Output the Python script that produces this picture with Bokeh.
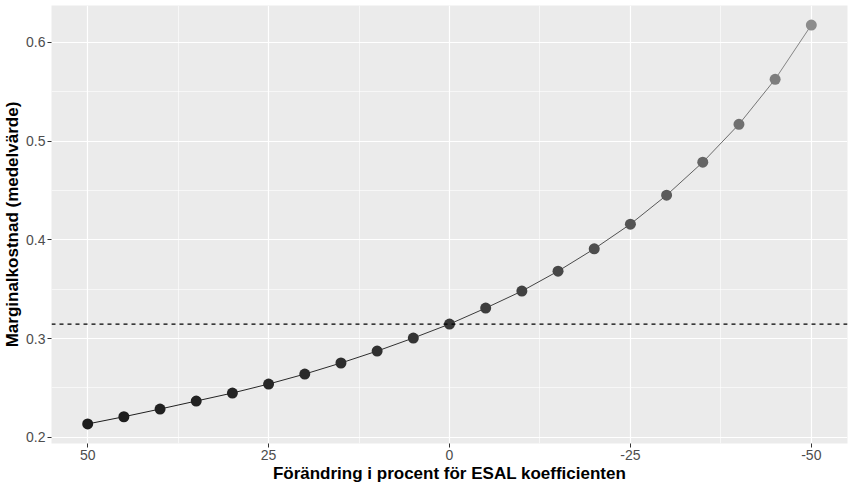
import numpy as np
from bokeh.plotting import figure
from bokeh.models import (Range1d, FixedTicker, LinearColorMapper, ColumnDataSource, Span,
                          CustomJSTickFormatter)
from bokeh.transform import transform
from bokeh.embed import file_html
from bokeh.resources import INLINE

# Data
change_pct = [50, 45, 40, 35, 30, 25, 20, 15, 10, 5, 0,
              -5, -10, -15, -20, -25, -30, -35, -40, -45, -50]
marginal_cost = [0.2136, 0.2209, 0.2287, 0.2368, 0.2449, 0.2540, 0.2641, 0.2753,
                 0.2874, 0.3006, 0.3147, 0.3309, 0.3481, 0.3683, 0.3909, 0.4159,
                 0.4452, 0.4786, 0.5170, 0.5626, 0.6175]
reference_level = 0.3147
x_ticks = [50, 25, 0, -25, -50]
x_minor = [37.5, 12.5, -12.5, -37.5]
y_ticks = [0.2, 0.3, 0.4, 0.5, 0.6]
y_minor = [0.25, 0.35, 0.45, 0.55]

# grey gradient palette (style)
palette = []
for i in range(256):
    g = int(round(28 + (140 - 28) * i / 255))
    palette.append("#%02x%02x%02x" % (g, g, g))
mapper = LinearColorMapper(palette=palette, low=min(marginal_cost), high=max(marginal_cost))

pts = ColumnDataSource(dict(x=change_pct, y=marginal_cost))
seg = ColumnDataSource(dict(x0=change_pct[:-1], y0=marginal_cost[:-1],
                            x1=change_pct[1:], y1=marginal_cost[1:],
                            c=[(a + b) / 2 for a, b in zip(marginal_cost[:-1], marginal_cost[1:])]))

p = figure(width=853, height=485, output_backend="svg", toolbar_location=None,
           x_range=Range1d(55, -55), y_range=Range1d(0.1938, 0.6373),
           min_border_left=46, min_border_right=6, min_border_top=5, min_border_bottom=38)

p.background_fill_color = "#EBEBEB"
p.border_fill_color = "white"
p.outline_line_color = None

xt = FixedTicker(ticks=x_ticks, minor_ticks=x_minor)
yt = FixedTicker(ticks=y_ticks, minor_ticks=y_minor)
p.xaxis.ticker = xt
p.yaxis.ticker = yt
p.xgrid.ticker = xt
p.ygrid.ticker = yt
for g in (p.xgrid, p.ygrid):
    g.grid_line_color = "white"
    g.grid_line_width = 1.2
    g.minor_grid_line_color = "white"
    g.minor_grid_line_width = 0.6

p.yaxis.formatter = CustomJSTickFormatter(code="return tick.toFixed(1);")
p.xaxis.formatter = CustomJSTickFormatter(code="return String(tick);")

for ax in (p.xaxis, p.yaxis):
    ax.axis_line_color = None
    ax.major_tick_line_color = "#333333"
    ax.major_tick_out = 4
    ax.major_tick_in = 0
    ax.minor_tick_line_color = None
    ax.major_label_text_color = "#4D4D4D"
    ax.major_label_text_font = "Liberation Sans"
    ax.major_label_text_font_size = "14px"
    ax.axis_label_text_font = "Liberation Sans"
    ax.axis_label_text_font_size = "17px"
    ax.axis_label_text_font_style = "bold"
    ax.axis_label_text_color = "black"
    ax.major_label_standoff = 2

p.xaxis.axis_label = "Förändring i procent för ESAL koefficienten"
p.yaxis.axis_label = "Marginalkostnad (medelvärde)"
p.xaxis.axis_label_standoff = 1
p.yaxis.axis_label_standoff = 1

p.add_layout(Span(location=reference_level, dimension="width", line_color="black",
                  line_dash="4 4", line_width=1.1))

p.segment(x0="x0", y0="y0", x1="x1", y1="y1", source=seg,
          line_color=transform("c", mapper), line_width=1.0)
p.scatter(x="x", y="y", source=pts, size=11, fill_color=transform("y", mapper),
          line_color=transform("y", mapper), line_width=0)

open("out.html", "w").write(file_html(p, INLINE))
